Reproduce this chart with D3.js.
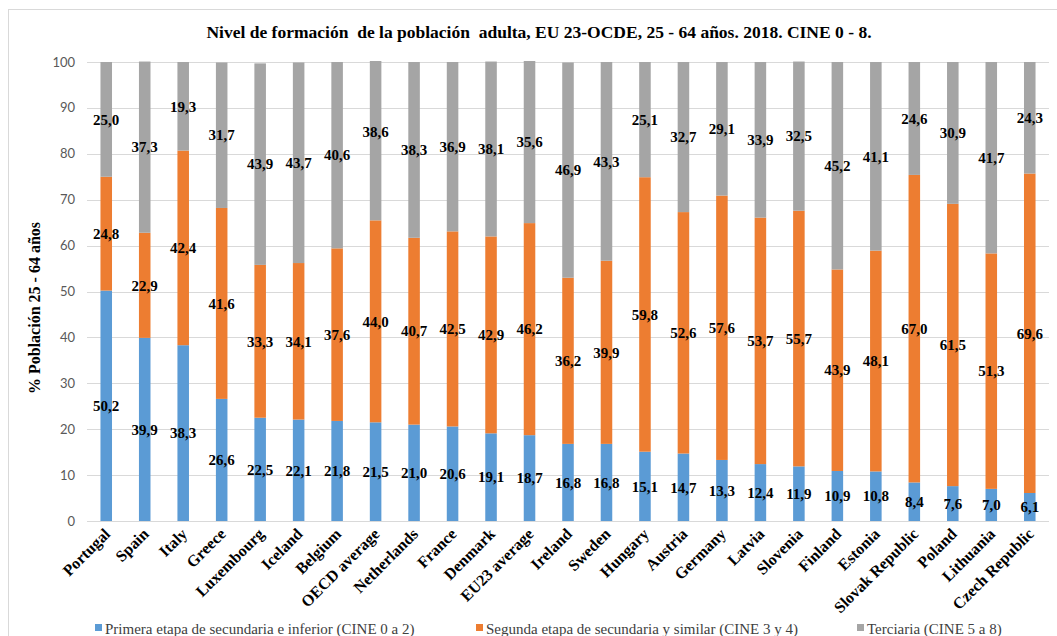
<!DOCTYPE html>
<html lang="es">
<head>
<meta charset="UTF-8">
<title>Nivel de formación de la población adulta</title>
<style>
    body { margin: 0; padding: 0; background: #fff; }
    svg { display: block; }
</style>
</head>
<body>
<div id="chart"></div>
<script src="https://cdn.jsdelivr.net/npm/d3@7"></script>
<script>
// data
const countries = ["Portugal", "Spain", "Italy", "Greece", "Luxembourg", "Iceland", "Belgium",
    "OECD average", "Netherlands", "France", "Denmark", "EU23 average", "Ireland", "Sweden",
    "Hungary", "Austria", "Germany", "Latvia", "Slovenia", "Finland", "Estonia",
    "Slovak Republic", "Poland", "Lithuania", "Czech Republic"];
const primera = [50.2, 39.9, 38.3, 26.6, 22.5, 22.1, 21.8, 21.5, 21.0, 20.6, 19.1, 18.7, 16.8, 16.8,
    15.1, 14.7, 13.3, 12.4, 11.9, 10.9, 10.8, 8.4, 7.6, 7.0, 6.1];
const segunda = [24.8, 22.9, 42.4, 41.6, 33.3, 34.1, 37.6, 44.0, 40.7, 42.5, 42.9, 46.2, 36.2, 39.9,
    59.8, 52.6, 57.6, 53.7, 55.7, 43.9, 48.1, 67.0, 61.5, 51.3, 69.6];
const terciaria = [25.0, 37.3, 19.3, 31.7, 43.9, 43.7, 40.6, 38.6, 38.3, 36.9, 38.1, 35.6, 46.9, 43.3,
    25.1, 32.7, 29.1, 33.9, 32.5, 45.2, 41.1, 24.6, 30.9, 41.7, 24.3];
const seriesNames = ["Primera etapa de secundaria e inferior (CINE 0 a 2)",
    "Segunda etapa de secundaria y similar (CINE 3 y 4)",
    "Terciaria (CINE 5 a 8)"];
const yTicks = [0, 10, 20, 30, 40, 50, 60, 70, 80, 90, 100];
const titleText = "Nivel de formación  de la población  adulta, EU 23-OCDE, 25 - 64 años. 2018. CINE 0 - 8.";
const yTitle = "% Población 25 - 64 años";

const colors = ["#5B9BD5", "#ED7D31", "#A5A5A5"];
const SERIF = "'Liberation Serif', 'Times New Roman', 'DejaVu Serif', serif";
const W = 1057, H = 636;
const plot = { left: 87, right: 1049, top: 62, bottom: 521 };

const svg = d3.select("#chart").append("svg")
    .attr("width", W).attr("height", H);

// chart border (right and bottom run off the picture)
svg.append("rect")
    .attr("x", 8.5).attr("y", 9.5)
    .attr("width", W + 20).attr("height", H + 20)
    .attr("fill", "none").attr("stroke", "#D9D9D9");

const x = d3.scaleBand()
    .domain(countries)
    .range([plot.left, plot.right])
    .paddingInner(0.7).paddingOuter(0.35);

const y = d3.scaleLinear().domain([0, 100]).range([plot.bottom, plot.top]);

// gridlines
svg.append("g")
    .selectAll("line")
    .data(yTicks)
    .join("line")
    .attr("x1", plot.left).attr("x2", plot.right)
    .attr("y1", d => Math.round(y(d)) + 0.5).attr("y2", d => Math.round(y(d)) + 0.5)
    .attr("stroke", "#D9D9D9").attr("stroke-width", 1);

// y tick labels
svg.append("g")
    .selectAll("text")
    .data(yTicks)
    .join("text")
    .attr("x", 75).attr("y", d => y(d))
    .attr("dy", "0.35em")
    .attr("text-anchor", "end")
    .attr("font-family", "Lato, 'Open Sans', sans-serif")
    .attr("font-size", 13)
    .attr("fill", "#595959")
    .text(d => d);

// stacked data
const rows = countries.map((c, i) => ({ country: c, p: primera[i], s: segunda[i], t: terciaria[i] }));
const stack = d3.stack().keys(["p", "s", "t"]);
const layers = stack(rows);

// bars above 100 are cut at the top of the plot, as in the original
svg.append("clipPath").attr("id", "clip")
    .append("rect")
    .attr("x", plot.left).attr("y", plot.top - 1)
    .attr("width", plot.right - plot.left).attr("height", plot.bottom - plot.top + 1);

const barsG = svg.append("g").attr("clip-path", "url(#clip)");
layers.forEach((layer, li) => {
    barsG.append("g")
        .selectAll("rect")
        .data(layer)
        .join("rect")
        .attr("x", d => x(d.data.country))
        .attr("width", x.bandwidth())
        .attr("y", d => y(d[1]))
        .attr("height", d => y(d[0]) - y(d[1]))
        .attr("fill", colors[li]);
});

// data labels
const fmt = v => v.toFixed(1).replace(".", ",");
layers.forEach((layer, li) => {
    svg.append("g")
        .selectAll("text")
        .data(layer)
        .join("text")
        .attr("x", d => x(d.data.country) + x.bandwidth() / 2)
        .attr("y", d => y((d[0] + d[1]) / 2))
        .attr("dy", "0.35em")
        .attr("text-anchor", "middle")
        .attr("font-family", SERIF)
        .attr("font-size", 15)
        .attr("font-weight", "bold")
        .attr("fill", "#000")
        .text(d => fmt(d[1] - d[0]));
});

// category labels
svg.append("g")
    .selectAll("text")
    .data(countries)
    .join("text")
    .attr("transform", d => "translate(" + (x(d) + x.bandwidth() / 2 + 5) + "," + 535 + ") rotate(-45)")
    .attr("text-anchor", "end")
    .attr("font-family", SERIF)
    .attr("font-size", 16)
    .attr("font-weight", "bold")
    .attr("fill", "#000")
    .text(d => d);

// title
svg.append("text")
    .attr("x", 539).attr("y", 38)
    .attr("text-anchor", "middle")
    .attr("font-family", SERIF)
    .attr("font-size", 17.5)
    .attr("font-weight", "bold")
    .style("white-space", "pre")
    .text(titleText);

// y axis title
svg.append("text")
    .attr("transform", "translate(40,308) rotate(-90)")
    .attr("text-anchor", "middle")
    .attr("font-family", SERIF)
    .attr("font-size", 16)
    .attr("font-weight", "bold")
    .text(yTitle);

// legend
const legendX = [95, 476, 857];
const legend = svg.append("g");
seriesNames.forEach((name, i) => {
    legend.append("rect")
        .attr("x", legendX[i]).attr("y", 624)
        .attr("width", 7).attr("height", 7)
        .attr("fill", colors[i]);
    legend.append("text")
        .attr("x", legendX[i] + 10).attr("y", 634)
        .attr("font-family", SERIF)
        .attr("font-size", 15)
        .attr("fill", "#404040")
        .text(name);
});
</script>
</body>
</html>
